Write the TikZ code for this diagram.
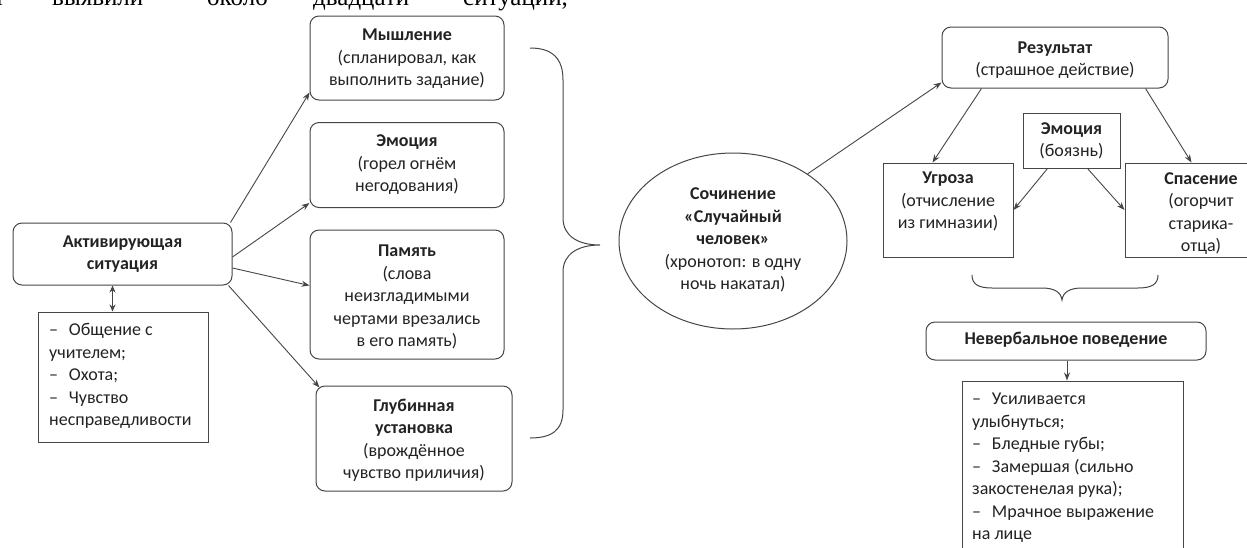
\documentclass[tikz,border=0pt]{standalone}
\usepackage{fontspec}
\setmainfont{Carlito}
\newfontfamily\serifru{Liberation Serif}
\usetikzlibrary{shapes.geometric,arrows.meta}
\definecolor{lc}{RGB}{70,70,70}
\definecolor{tc}{RGB}{35,35,35}
\tikzset{
  rbox/.style={draw=lc, line width=1pt, rounded corners=9pt, inner sep=0pt},
  sbox/.style={draw=lc, line width=1pt, inner sep=0pt},
  txt/.style={font=\fontsize{18}{22.5}\selectfont, align=center, text=tc, inner sep=0pt},
  ltxt/.style={font=\fontsize{18}{22.5}\selectfont, align=left, text=tc, inner sep=0pt, anchor=west},
  arr/.style={draw=lc, line width=0.9pt, -{Stealth[length=8pt,width=6pt]}},
  darr/.style={draw=lc, line width=0.9pt, {Stealth[length=7pt,width=6pt]}-{Stealth[length=7pt,width=6pt]}},
  brc/.style={draw=lc, line width=1pt},
  toptxt/.style={font=\serifru\fontsize{25}{30}\selectfont, text=black, inner sep=0pt, anchor=base west}
}
\begin{document}
\begin{tikzpicture}[x=1pt,y=-1pt]
\clip (0,0) rectangle (1247,547);
\fill[white] (0,0) rectangle (1247,547);

% cut-off text line at the top
\node[toptxt] (w0) at (-6,5) {т};
\node[toptxt] (w1) at (52,5) {выявили};
\node[toptxt] (w2) at (207,5) {около};
\node[toptxt] (w3) at (313,5) {двадцати};
\node[toptxt] (w4) at (463,5) {ситуаций,};

% left part
\node[rbox, minimum width=219pt, minimum height=62pt] (act) at (122.5,254) {};
\node[txt] (actt) at (122.5,254) {\textbf{Активирующая}\\\textbf{ситуация}};

\node[sbox, minimum width=170pt, minimum height=130pt] (lst1) at (123,377) {};
\node[ltxt] (lst1t) at (49,376) {–\hspace{0.6em}Общение с\\учителем;\\–\hspace{0.6em}Охота;\\–\hspace{0.6em}Чувство\\несправедливости};

\node[rbox, minimum width=194pt, minimum height=84pt] (mysh) at (407,58) {};
\node[txt] (mysht) at (407,59) {\textbf{Мышление}\\(спланировал, как\\выполнить задание)};

\node[rbox, minimum width=194pt, minimum height=85pt] (emo) at (407,165) {};
\node[txt] (emot) at (407,165) {\textbf{Эмоция}\\(горел огнём\\негодования)};

\node[rbox, minimum width=194pt, minimum height=129pt] (pam) at (407,294.5) {};
\node[txt] (pamt) at (407,297) {\textbf{Память}\\(слова\\неизгладимыми\\чертами врезались\\в его память)};

\node[rbox, minimum width=196pt, minimum height=105pt] (glub) at (414,438.5) {};
\node[txt] (glubt) at (414,440) {\textbf{Глубинная}\\\textbf{установка}\\(врождённое\\чувство приличия)};

% connectors left
\draw[darr] ([xshift=-10pt]act.south) -- ([xshift=-10pt]act.south |- lst1.north);
\draw[arr] ([xshift=-2pt]act.north east) -- ([yshift=8pt]mysh.south west);
\draw[arr] ([yshift=-3pt]act.east) -- ([yshift=5pt]emo.south west);
\draw[arr] ([yshift=-14pt]act.east) -- ([yshift=9pt]pam.west);
\draw[arr] ([xshift=-4pt]act.south east) -- ([xshift=4pt,yshift=-2pt]glub.north west);

% big brace
\draw[brc] (530,48) .. controls (552,48) and (563,58) .. (563,80)
  -- (563,218) .. controls (563,236) and (578,245) .. (600,245)
  .. controls (578,245) and (563,254) .. (563,272)
  -- (563,410) .. controls (563,430) and (552,438) .. (530,438);

% ellipse
\node[draw=lc, line width=1pt, ellipse, minimum width=228pt, minimum height=176pt, inner sep=0pt] (ell) at (733,241) {};
\node[txt] (ellt) at (733,240) {\textbf{Сочинение}\\\textbf{«Случайный}\\\textbf{человек»}\\(хронотоп: в одну\\ночь накатал)};

% right part
\node[rbox, minimum width=226pt, minimum height=61pt] (res) at (1055,57.5) {};
\node[txt] (rest) at (1055,60) {\textbf{Результат}\\(страшное действие)};

\node[sbox, minimum width=97pt, minimum height=55pt] (emo2) at (1071.5,140.5) {};
\node[txt] (emo2t) at (1071.5,141) {\textbf{Эмоция}\\(боязнь)};

\node[sbox, minimum width=130pt, minimum height=94pt] (ugr) at (948,210) {};
\node[txt, anchor=north] (ugrt) at (948,172) {\textbf{Угроза}\\(отчисление\\из гимназии)};

\node[sbox, minimum width=152pt, minimum height=94pt] (spas) at (1201,210) {};
\node[txt, anchor=north] (spast) at (1201,172) {\textbf{Спасение}\\(огорчит\\старика-\\отца)};

\draw[arr] (ell.42) -- ([yshift=6pt]res.south west);
\draw[arr] ([xshift=40pt]res.south west) -- ([xshift=50pt]ugr.north west);
\draw[arr] ([xshift=-23pt]res.south east) -- ([xshift=67pt]spas.north west);
\draw[arr] ([xshift=25pt]emo2.south west) -- (ugr.east);
\draw[arr] ([xshift=-33pt]emo2.south east) -- (spas.west);

% small brace
\draw[brc] (972,275) .. controls (972,284) and (978,288) .. (992,288)
  -- (1042,288) .. controls (1054,288) and (1061,292) .. (1062,300)
  .. controls (1063,292) and (1070,288) .. (1082,288)
  -- (1138,288) .. controls (1152,288) and (1158,284) .. (1158,275);

\node[rbox, minimum width=280pt, minimum height=38pt] (nev) at (1066,341) {};
\node[txt] (nevt) at (1066,340) {\textbf{Невербальное поведение}};

\node[sbox, minimum width=221pt, minimum height=200pt] (lst2) at (1072.5,481) {};
\node[ltxt] (lst2t) at (972,468) {–\hspace{0.6em}Усиливается\\улыбнуться;\\–\hspace{0.6em}Бледные губы;\\–\hspace{0.6em}Замершая (сильно\\закостенелая рука);\\–\hspace{0.6em}Мрачное выражение\\на лице};

\draw[arr] ([xshift=1pt]nev.south) -- ([xshift=1pt]nev.south |- lst2.north);
\end{tikzpicture}
\end{document}
